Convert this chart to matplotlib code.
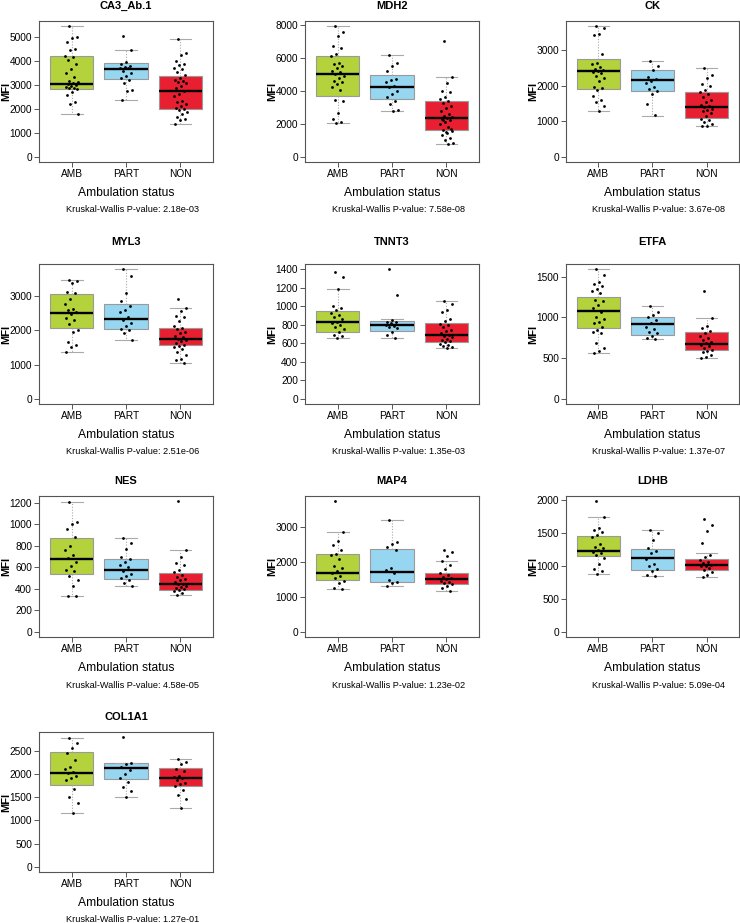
import numpy as np
import matplotlib
matplotlib.use("Agg")
import matplotlib.pyplot as plt

plt.rcParams['font.family'] = ['Liberation Sans', 'DejaVu Sans']

# groups and colours
groups = ['AMB', 'PART', 'NON']
colors = ['#b3d23b', '#97d6f1', '#e81f30']

genes = ['CA3_Ab.1', 'MDH2', 'CK', 'MYL3', 'TNNT3', 'ETFA', 'NES', 'MAP4', 'LDHB', 'COL1A1']
pvals = ['2.18e-03', '7.58e-08', '3.67e-08', '2.51e-06', '1.35e-03',
         '1.37e-07', '4.58e-05', '1.23e-02', '5.09e-04', '1.27e-01']
tick_steps = [1000, 2000, 1000, 1000, 200, 500, 200, 1000, 500, 500]
tick_tops = [5000, 8000, 3000, 3000, 1400, 1500, 1200, 3000, 2000, 2500]

# box stats per group: q1, median, q3, lower whisker, upper whisker
CA3_BOX = [[2824, 3030, 4187, 1790, 5440], [3237, 3678, 3898, 2383, 4435], [1997, 2755, 3375, 1377, 4917]]
CA3_AMB = [5440, 5000, 4960, 4780, 4480, 4450, 4200, 4160, 4040, 3860, 3650, 3500, 3330, 3170, 3100,
           3060, 3030, 3000, 2960, 2920, 2880, 2860, 2830, 2690, 2580, 2270, 2200, 1790]
CA3_PART = [5030, 4430, 3930, 3880, 3790, 3750, 3720, 3680, 3580, 3510, 3380, 3270, 3200, 3060, 2780, 2730, 2380]
CA3_NON = [4920, 4340, 4240, 4000, 3880, 3820, 3720, 3650, 3540, 3420, 3280, 3200, 3140, 3100, 3060, 2960,
           2870, 2760, 2620, 2550, 2340, 2300, 2200, 2100, 2040, 2000, 1930, 1860, 1790, 1650, 1580, 1540, 1380]

MDH2_BOX = [[3700, 4980, 6100, 2060, 7900], [3500, 4240, 4960, 2800, 6160], [1640, 2340, 3400, 800, 4840]]
MDH2_AMB = [7900, 7560, 7300, 6700, 6600, 6200, 6100, 5700, 5600, 5500, 5400, 5200, 5100, 5000, 4900,
            4760, 4600, 4500, 4400, 4240, 4040, 3440, 3360, 2640, 2300, 2100, 2040]
MDH2_PART = [6160, 5700, 5500, 5200, 4700, 4640, 4500, 4300, 4200, 3960, 3800, 3600, 3400, 3200, 2840, 2800]
MDH2_NON = [7000, 4840, 4440, 4000, 3900, 3600, 3500, 3400, 3240, 3100, 2960, 2800, 2600, 2460, 2400, 2340,
            2280, 2200, 2100, 1960, 1800, 1640, 1540, 1440, 1300, 1160, 1000, 840, 800, 2250, 1700, 1500]

CK_BOX = [[1910, 2423, 2768, 1286, 3681], [1864, 2171, 2442, 1146, 2703], [1100, 1398, 1817, 857, 2516]]
CK_AMB = [3680, 3635, 3450, 3420, 2890, 2656, 2628, 2535, 2470, 2440, 2423, 2400, 2350, 2283, 2210, 2143,
          1976, 1938, 1883, 1724, 1603, 1556, 1445, 1286]
CK_PART = [2700, 2563, 2442, 2237, 2190, 2143, 2069, 1957, 1910, 1845, 1770, 1491, 1165]
CK_NON = [2516, 2311, 2218, 2050, 2004, 1883, 1817, 1770, 1677, 1603, 1538, 1472, 1420, 1398, 1351, 1305,
          1280, 1230, 1137, 1072, 1025, 978, 913, 880, 857]

MYL3_BOX = [[2060, 2520, 3066, 1361, 3480], [2042, 2340, 2780, 1707, 3787], [1563, 1745, 2080, 1055, 2665]]
MYL3_AMB = [3480, 3430, 3375, 3116, 3090, 2905, 2760, 2617, 2590, 2540, 2490, 2350, 2300, 2186, 2013,
            1965, 1650, 1582, 1515, 1361]
MYL3_PART = [3787, 3595, 3097, 2857, 2704, 2608, 2522, 2378, 2300, 2205, 2128, 2042, 2013, 1917, 1707]
MYL3_NON = [2924, 2665, 2570, 2416, 2378, 2282, 2128, 2080, 2032, 1965, 1917, 1841, 1802, 1745, 1720, 1678,
            1630, 1563, 1540, 1515, 1458, 1361, 1266, 1170, 1131, 1055]

TNNT3_BOX = [[727, 826, 950, 656, 1188], [734, 798, 844, 656, 858], [610, 691, 823, 550, 1057]]
TNNT3_AMB = [1365, 1312, 1188, 1000, 986, 957, 922, 904, 879, 858, 833, 816, 798, 780, 752, 727, 691, 674, 656]
TNNT3_PART = [1400, 1117, 851, 833, 825, 816, 798, 790, 780, 762, 727, 691, 656]
TNNT3_NON = [1057, 1028, 957, 940, 858, 844, 809, 800, 780, 745, 730, 709, 690, 681, 667, 650, 638, 620,
             610, 596, 585, 574, 560, 550]

ETFA_BOX = [[867, 1077, 1250, 565, 1593], [786, 915, 1000, 738, 1137], [605, 677, 827, 504, 988]]
ETFA_AMB = [1593, 1520, 1431, 1411, 1391, 1351, 1331, 1298, 1210, 1198, 1149, 1121, 1069, 1000, 976, 948,
            927, 887, 847, 827, 806, 685, 625, 585, 565]
ETFA_PART = [1137, 1069, 1028, 1000, 968, 927, 887, 855, 827, 806, 766, 746, 738]
ETFA_NON = [1331, 988, 895, 867, 839, 806, 774, 746, 718, 694, 680, 665, 645, 625, 605, 590, 573, 544, 516, 504]

NES_BOX = [[538, 674, 874, 329, 1206], [489, 575, 674, 422, 868], [391, 446, 545, 345, 760]]
NES_AMB = [1206, 1022, 997, 951, 877, 800, 760, 714, 683, 652, 612, 575, 560, 520, 477, 422, 335, 329]
NES_PART = [868, 822, 766, 698, 674, 652, 622, 606, 560, 538, 520, 498, 477, 452, 422]
NES_NON = [1212, 760, 698, 643, 622, 575, 551, 529, 508, 489, 477, 458, 446, 440, 428, 415, 405, 397, 385,
           375, 360, 345]

MAP4_BOX = [[1476, 1686, 2238, 1210, 2857], [1428, 1695, 2381, 1314, 3190], [1362, 1495, 1667, 1162, 2019]]
MAP4_AMB = [3733, 2857, 2600, 2476, 2352, 2238, 2190, 2067, 1876, 1810, 1743, 1667, 1590, 1524, 1457,
            1381, 1238, 1210]
MAP4_PART = [3190, 2571, 2524, 2410, 2352, 1810, 1762, 1667, 1476, 1428, 1381, 1314]
MAP4_NON = [2333, 2286, 2162, 2019, 1905, 1781, 1686, 1619, 1571, 1524, 1495, 1457, 1430, 1400, 1362,
            1305, 1238, 1162]

LDHB_BOX = [[1150, 1223, 1451, 872, 1739], [937, 1123, 1248, 837, 1539], [937, 1003, 1103, 827, 1188]]
LDHB_AMB = [1975, 1739, 1564, 1539, 1514, 1464, 1439, 1323, 1288, 1263, 1238, 1213, 1188, 1163, 1113,
            1028, 947, 922, 872]
LDHB_PART = [1539, 1499, 1388, 1263, 1228, 1188, 1098, 1028, 988, 947, 912, 862, 837]
LDHB_NON = [1699, 1614, 1529, 1348, 1163, 1138, 1088, 1063, 1038, 1013, 1000, 988, 962, 927, 897, 862, 827]

COL1A1_BOX = [[1776, 2024, 2479, 1165, 2770], [1896, 2124, 2237, 1506, 2251], [1754, 1910, 2131, 1271, 2337]]
COL1A1_AMB = [2770, 2663, 2557, 2464, 2308, 2159, 2110, 2053, 2017, 1967, 1918, 1875, 1683, 1506, 1378, 1165]
COL1A1_PART = [2798, 2251, 2216, 2159, 2088, 2003, 1918, 1826, 1719, 1634, 1506]
COL1A1_NON = [2337, 2273, 2216, 2110, 2074, 1967, 1932, 1910, 1875, 1804, 1780, 1754, 1648, 1541, 1470, 1271]

panels = [
    (CA3_BOX, [CA3_AMB, CA3_PART, CA3_NON]),
    (MDH2_BOX, [MDH2_AMB, MDH2_PART, MDH2_NON]),
    (CK_BOX, [CK_AMB, CK_PART, CK_NON]),
    (MYL3_BOX, [MYL3_AMB, MYL3_PART, MYL3_NON]),
    (TNNT3_BOX, [TNNT3_AMB, TNNT3_PART, TNNT3_NON]),
    (ETFA_BOX, [ETFA_AMB, ETFA_PART, ETFA_NON]),
    (NES_BOX, [NES_AMB, NES_PART, NES_NON]),
    (MAP4_BOX, [MAP4_AMB, MAP4_PART, MAP4_NON]),
    (LDHB_BOX, [LDHB_AMB, LDHB_PART, LDHB_NON]),
    (COL1A1_BOX, [COL1A1_AMB, COL1A1_PART, COL1A1_NON]),
]

# layout in pixels
W, H = 740, 923
col_x = [(39, 213), (305, 479), (566, 739)]
row_y = [(21, 162), (264, 404), (496, 637), (732, 872)]

fig = plt.figure(figsize=(W / 100, H / 100), dpi=100)
frame_col = '#555555'

for i, gene in enumerate(genes):
    r, c = divmod(i, 3)
    x0, x1 = col_x[c]
    y0, y1 = row_y[r]
    ax = fig.add_axes([x0 / W, 1 - y1 / H, (x1 - x0) / W, (y1 - y0) / H])
    box, pts = panels[i]

    stats = []
    for g, b in zip(groups, box):
        stats.append(dict(label=g, q1=b[0], med=b[1], q3=b[2], whislo=b[3], whishi=b[4], fliers=[]))
    bp = ax.bxp(stats, positions=[1, 2, 3], widths=0.8, patch_artist=True, showfliers=False,
                boxprops=dict(edgecolor='#9a9a9a', linewidth=0.8),
                medianprops=dict(color='black', linewidth=1.7),
                whiskerprops=dict(color='#aaaaaa', linestyle=(0, (1, 1.5)), linewidth=0.8),
                capprops=dict(color='#aaaaaa', linewidth=0.8),
                capwidths=0.4)
    for patch, col in zip(bp['boxes'], colors):
        patch.set_facecolor(col)

    for k, vals in enumerate(pts):
        n = len(vals)
        off = ((np.arange(n) * 0.618034 + 0.3) % 1 - 0.5) * 0.24
        ax.plot(np.full(n, k + 1) + off, vals, 'o', color='black', markersize=2.0,
                markeredgewidth=0, zorder=5)

    allv = [v for vals in pts for v in vals] + [b[4] for b in box]
    m = max(allv)
    ax.set_ylim(-0.04 * m, 1.04 * m)
    ax.set_xlim(0.4, 3.6)
    ax.set_yticks(np.arange(0, tick_tops[i] + 1, tick_steps[i]))
    ax.set_xticks([1, 2, 3])
    ax.set_xticklabels(groups)
    ax.tick_params(axis='both', labelsize=7.3, length=3.5, width=0.7, color=frame_col, pad=1.5)
    for s in ax.spines.values():
        s.set_color(frame_col)
        s.set_linewidth(0.8)

    ax.set_ylabel('MFI', fontsize=8, fontweight='bold')
    ax.yaxis.set_label_coords(-33 / (x1 - x0), 0.5)
    ax.yaxis.label.set_va('center')
    ax.set_title(gene, fontsize=8, fontweight='bold', pad=0,
                 y=1 + (15 if r != 1 else 22) / (y1 - y0), va='center')

    cx = (x0 + x1) / 2
    fig.text(cx / W, 1 - (y1 + 31) / H, 'Ambulation status', fontsize=8.7, ha='center', va='center')
    fig.text((cx + 6.5) / W, 1 - (y1 + 48) / H, 'Kruskal-Wallis P-value: ' + pvals[i],
             fontsize=6.6, ha='center', va='center')

fig.savefig('out.png', dpi=100)
